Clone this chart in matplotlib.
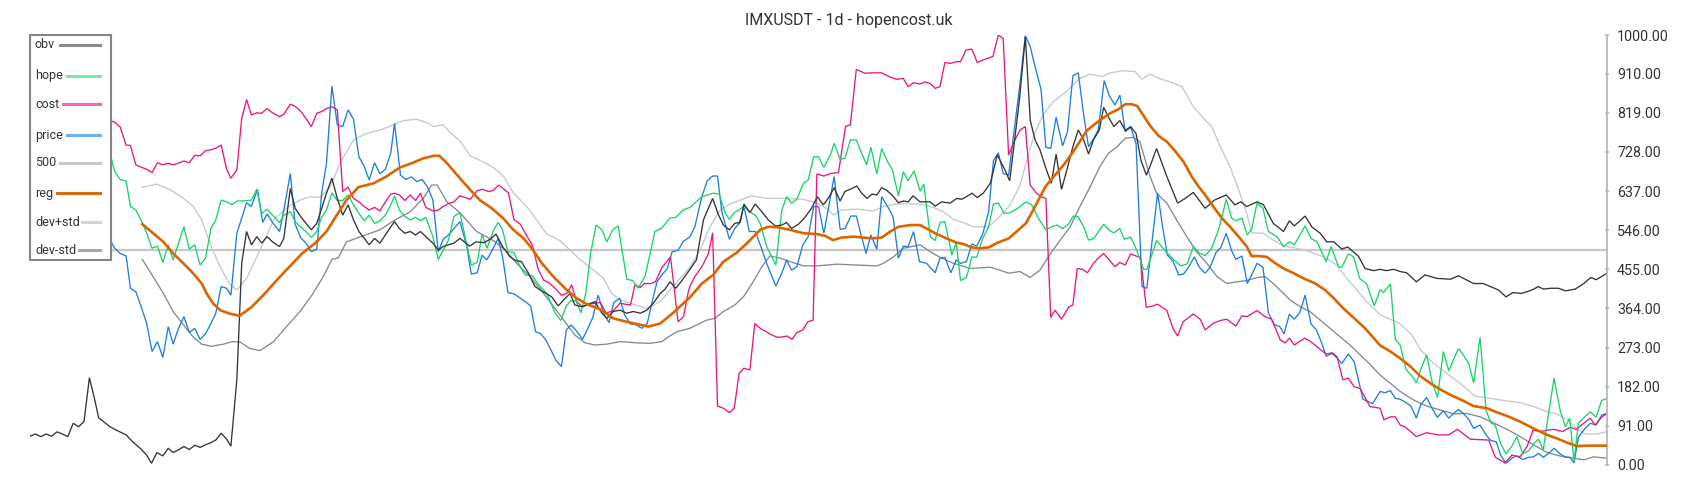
import matplotlib
matplotlib.use('Agg')
import matplotlib.pyplot as plt
import matplotlib.transforms as mtrans
from matplotlib.patches import Rectangle
from matplotlib.lines import Line2D

plt.rcParams['font.family'] = ['Roboto', 'DejaVu Sans']

# ── data: (day, value) ───────────────────────────────────────────────────────
obv = [(0,67),(1,72),(2,66),(3,72),(4,67),(5,77),(6,72),(7,66),(8,97),(9,89),(10,101),(11,203),(12,151),
       (12.7,110),(13.6,101),(14.8,89),(16,81),(17.8,70),(19,54),(20.4,39),(21.6,23),(22.5,4),(23.5,29),
       (24.6,21),(25.6,39),(26.5,29),(27.6,36),(28.5,43),(29.5,36),(30.5,46),(31.5,41),(32.5,47),(33.5,52),
       (34.4,58),(35.4,74),(36.4,60),(37.2,44),(38.3,198),(39.2,469),(40.1,543),(41,512),(42,531),(42.9,516),
       (43.9,531),(44.9,519),(46.2,508),(47,527),(48.2,643),(49.1,597),(50.1,578),(51.1,562),(52.1,547),
       (53.1,562),(54,597),(54.9,632),(55.9,667),(56.9,620),(57.9,581),(58.9,605),(59.9,570),(60.9,543),
       (61.9,527),(62.8,512),(63.8,527),(64.8,516),(65.8,535),(66.8,554),(67.5,566),(68.4,550),(69.4,539),
       (70.4,543),(71.4,535),(72.3,543),(73.3,531),(74.6,516),(75.6,500),(76.5,508),(77.5,512),(78.5,516),
       (79.6,527),(81.4,509),(82.6,519),(84,517),(85.2,525),(86.3,537),(87.5,508),(88.9,484),(90,475),
       (91,473),(92.3,446),(93.5,415),(95,403),(96.6,391),(97.8,370),(98.9,385),(100,399),(100.9,372),
       (102.2,368),(103.4,374),(104.6,380),(105.9,353),(106.8,341),(108,357),(109.3,360),(110.5,353),
       (111.7,357),(113,353),(114.2,360),(115.4,376),(116.7,399),(117.6,409),(118.5,426),(119.6,411),
       (121,434),(122.2,455),(123.4,477),(124.7,570),(125.6,597),(126.4,620),(127.5,581),(128.4,558),
       (129.5,547),(130.5,562),(131.5,564),(132.2,607),(133.3,587),(134.3,607),(135.5,589),(136.7,570),
       (138,556),(139.2,558),(140.1,564),(141,550),(142.3,560),(143.5,576),(144.7,597),(145.8,624),
       (146.9,605),(148,624),(148.9,645),(150,614),(150.9,636),(152.2,643),(153.1,649),(154,632),(155,620),
       (155.9,630),(156.8,628),(157.7,645),(158.6,639),(159.6,628),(160.8,610),(161.7,614),(162.6,612),
       (163.5,626),(164.8,612),(166.7,612),(167.6,602),(168.8,612),(170.4,609),(171.6,620),(172.5,618),
       (173.4,624),(174.4,632),(175.4,622),(176.5,632),(177.8,655),(179.1,721),(180.5,687),(181.4,661),
       (182.1,733),(183.2,849),(184.3,996),(185.2,802),(186.1,756),(187,733),(188,694),(189.1,655),
       (190,723),(191,641),(192,687),(193.1,740),(194.1,779),(195.1,756),(196,723),(196.9,756),(198,779),
       (198.8,832),(199.7,809),(200.7,787),(201.8,801),(202.8,778),(203.8,787),(204.8,771),(205.7,709),
       (206.7,674),(207.4,695),(208.6,736),(210.5,671),(212.5,609),(213.9,620),(215.4,634),(217.6,597),
       (219.3,616),(221.5,628),(223.1,605),(224.2,612),(225.3,601),(227.2,612),(228.4,605),(230.2,562),
       (232.1,543),(233.2,568),(234.1,556),(236.1,579),(237.4,553),(238.9,539),(240.1,519),(241.4,519),
       (242.9,502),(244,507),(246,485),(247.2,457),(248.8,452),(250,455),(251.2,452),(252.5,455),
       (253.7,450),(254.9,447),(256.7,426),(258.3,442),(260.5,434),(263,432),(264.5,440),(267.3,422),
       (269.1,422),(271.9,407),(273.3,391),(274.6,401),(276.2,399),(278.1,407),(279.3,415),(280.2,409),
       (281.5,411),(283,411),(284.3,405),(286.1,409),(287.7,422),(289,436),(290,431),(291.7,444),(292,446)]

hope = [(0,760),(4,745),(8,770),(12,740),(14.8,725),(15.7,682),(16.7,664),(17.8,660),(18.6,601),(19.6,593),
        (20.7,566),(21.6,539),(22.6,504),(23.6,509),(24.6,471),(25.6,512),(26.5,477),(27.5,516),(28.5,554),
        (29.5,502),(30.5,512),(31.5,465),(32.5,481),(33.5,550),(34.4,570),(35.4,616),(36.4,612),(37.4,606),
        (38.4,614),(39.4,614),(41,616),(42,641),(42.9,585),(43.9,595),(44.9,581),(46.2,564),(47,581),
        (48.2,589),(49.1,566),(50.1,554),(51.1,543),(52.1,529),(53.1,543),(54,576),(54.9,593),(55.9,633),
        (56.9,615),(57.9,615),(58.9,628),(59.9,605),(60.9,585),(61.9,568),(62.8,581),(63.8,562),(64.8,568),
        (65.8,581),(66.8,605),(67.5,626),(68.4,593),(69.4,578),(70.4,570),(71.4,576),(72.3,568),(73.3,576),
        (74.6,531),(75.6,478),(76.5,500),(77.5,523),(78.5,578),(79.6,587),(81.7,465),(82.8,471),(83.7,537),
        (84.6,504),(85.9,548),(86.7,564),(87.5,547),(88.5,496),(89.6,494),(90.8,460),(91.7,442),(93,440),
        (94.2,419),(95.7,399),(97.2,354),(98.3,336),(99.3,370),(100.1,382),(101.1,382),(102,354),(102.9,398),
        (103.8,492),(104.8,558),(105.9,547),(106.8,519),(107.9,547),(108.9,556),(110.5,432),(111.6,429),
        (112.6,411),(113.9,440),(114.9,496),(115.7,543),(116.9,550),(118.5,574),(119.6,576),(120.9,593),
        (122.2,599),(124.4,624),(126.5,632),(127.6,630),(128.7,587),(129.5,571),(130.4,587),(131.3,593),
        (132.2,602),(133.2,589),(134.3,581),(135.2,562),(136.4,508),(138.1,465),(139.2,593),(140.1,624),
        (141,609),(142,618),(143.2,655),(144.1,663),(145.1,717),(146,717),(147,692),(148.2,721),(148.9,748),
        (150,711),(150.9,713),(151.9,756),(153,756),(154,725),(154.9,698),(155.7,739),(156.8,677),
        (157.7,736),(158.8,705),(159.7,686),(160.8,626),(161.7,682),(162.6,661),(163.7,684),(164.8,637),
        (165.5,653),(166.7,531),(167.6,522),(168.5,564),(169.4,566),(170.7,488),(171.5,517),(172.3,429),
        (173.4,436),(174.4,484),(175.3,483),(176.4,527),(177.5,554),(178.4,607),(179.3,609),(180.4,585),
        (181.5,587),(182.7,595),(184.4,612),(185.5,605),(186.7,574),(188.1,547),(189.2,554),(190.2,558),
        (191.2,550),(192.3,560),(193.2,579),(194.1,577),(195.1,554),(196,523),(197,527),(198.8,560),
        (199.9,545),(200.7,540),(201.8,550),(202.6,525),(203.8,530),(204.9,500),(206.2,455),(206.8,455),
        (207.4,477),(208.6,522),(210.2,498),(211.8,477),(213.1,463),(214.3,468),(215.4,508),(216.5,493),
        (217.6,487),(218.8,504),(220.1,548),(221.5,618),(222.5,574),(223.3,568),(224.4,574),(225.4,535),
        (226.2,548),(227.2,609),(228.3,597),(229.3,543),(230.9,531),(232.1,508),(233.2,519),(234.1,512),
        (236.1,556),(237.2,527),(238.3,519),(240,473),(240.9,508),(242.3,461),(242.9,460),(244.1,491),
        (245.1,484),(246.2,434),(247.5,421),(248.9,370),(250,408),(250.6,401),(251.9,421),(252.8,292),
        (253.7,279),(254.8,222),(255.9,207),(256.7,191),(257.5,222),(258.6,256),(259.6,194),(260.6,157),
        (261.7,264),(262.7,219),(263.6,246),(264.5,271),(265.4,256),(266.4,236),(267.3,191),(268.5,297),
        (269.6,128),(270.5,98),(271.3,93),(272.3,50),(273.3,26),(274.4,44),(275.3,66),(276.4,26),(277.5,33),
        (278.4,49),(279.3,60),(280.2,36),(281.2,122),(282.2,202),(283.3,128),(284.3,89),(285.1,109),
        (285.9,8),(286.7,97),(287.8,111),(288.9,124),(290,111),(291,150),(292,155)]

cost = [(0,800),(5,790),(10,805),(14.8,801),(15.7,797),(16.7,786),(17.8,744),(18.6,743),(19.6,698),(20.7,692),
        (21.6,688),(22.6,680),(23.6,703),(24.6,698),(25.6,702),(26.5,698),(27.5,702),(28.5,707),(29.5,703),
        (30.5,720),(31.5,719),(32.5,731),(33.5,733),(34.4,737),(35.4,744),(36.4,688),(37.2,667),(38.3,686),
        (39.2,806),(40.1,850),(41,814),(42,819),(42.9,818),(43.9,829),(44.9,819),(46.2,810),(47,816),
        (48.2,839),(49.1,834),(50.1,823),(51.1,806),(52.1,787),(53.1,818),(54,822),(54.9,829),(55.9,833),
        (56.9,826),(57.9,636),(58.9,646),(59.9,620),(60.9,612),(61.9,601),(62.8,593),(63.8,599),(64.8,591),
        (65.8,612),(66.8,630),(67.5,632),(68.4,628),(69.4,615),(70.4,628),(71.4,615),(72.3,632),(73.3,599),
        (74.6,591),(75.6,593),(76.5,601),(77.5,608),(78.5,612),(79.6,626),(81.5,618),(82.8,638),(83.8,641),
        (84.9,636),(85.7,638),(86.8,651),(88,639),(88.6,633),(89.6,571),(90.8,560),(91.7,539),(93,512),
        (94.1,455),(95.1,430),(96.2,423),(97.2,411),(98.4,395),(99.4,399),(100.3,419),(101.2,380),(102.3,368),
        (103.5,374),(104.6,376),(105.6,378),(106.7,353),(108.1,360),(109.2,376),(110.2,374),(111.2,372),
        (112,419),(113,413),(113.8,422),(114.9,422),(115.8,426),(117,459),(118.6,484),(120,333),(121,345),
        (121.9,403),(122.2,416),(123.1,438),(124.4,461),(125.6,491),(126.4,540),(127.3,137),(128.4,132),
        (129.5,122),(130.4,132),(131.3,213),(132.2,225),(133.3,221),(134.2,329),(135.2,318),(136.3,310),
        (137.4,302),(138.4,297),(139.4,298),(140.2,300),(141.1,292),(142,308),(143.1,314),(144,333),(145,337),
        (145.7,677),(147,672),(148.2,678),(149.7,680),(151,787),(151.9,791),(153,920),(154.6,911),(155.9,912),
        (157.7,912),(159.3,902),(160.5,897),(161.7,899),(162.6,880),(163.6,889),(164.8,886),(165.7,891),
        (166.7,887),(167.6,876),(168.5,880),(169.4,936),(170.5,934),(171.5,938),(172.3,938),(173.3,965),
        (174.4,967),(175.4,936),(176.5,942),(178.3,950),(179.3,1000),(180.2,992),(181.2,721),(182.2,752),
        (183.3,779),(184.3,787),(185.2,651),(186.3,633),(187.2,624),(188.1,620),(189,343),(189.8,360),
        (191,339),(192.3,367),(193.1,372),(193.9,457),(194.9,455),(195.8,447),(196.9,469),(197.8,481),
        (198.8,492),(199.9,476),(200.9,461),(201.8,471),(202.8,465),(203.8,491),(204.8,486),(205.6,483),
        (206.7,367),(207.4,368),(208.8,374),(210.5,359),(211.7,316),(212.5,300),(213.5,333),(215.4,351),
        (216.7,339),(217.6,314),(219,329),(220.4,336),(221.6,339),(223.3,323),(224.4,347),(225.3,345),
        (227.2,359),(228.7,345),(229.9,339),(231.5,291),(232.4,284),(233.2,295),(234.1,279),(236,295),
        (236.9,289),(238.3,275),(240,258),(241.1,261),(242,252),(243.1,198),(244.1,202),(245.2,182),
        (246.3,178),(248.1,136),(250,132),(250.7,105),(251.9,112),(252.8,112),(253.7,93),(254.6,89),
        (256.7,66),(258.6,75),(260.8,70),(262.7,70),(264.3,83),(266.7,60),(270.1,58),(271.3,18),(273.1,5),
        (274.4,23),(275.9,19),(277.2,43),(278.3,81),(279.6,78),(282.1,83),(283.8,78),(285.2,88),(286.3,83),
        (287.8,98),(288.9,109),(289.8,93),(291,111),(292,120)]

price = [(0,560),(4,545),(8,570),(12,540),(14.8,523),(15.7,504),(16.7,492),(17.8,486),(18.6,411),(19.6,403),
         (20.7,364),(21.6,329),(22.6,264),(23.6,287),(24.6,250),(25.6,322),(26.5,281),(27.5,318),(28.5,345),
         (29.5,308),(30.5,318),(31.5,292),(32.5,305),(33.5,329),(34.4,353),(35.4,415),(36.4,411),(37.2,395),
         (38.3,539),(39.2,574),(40.1,610),(41,601),(42.1,641),(43.1,564),(43.9,584),(44.9,564),(46.2,543),
         (47,593),(48.2,678),(49.1,560),(50.1,529),(51.1,516),(52.1,496),(53.1,502),(54,632),(54.9,702),
         (55.9,881),(56.9,791),(57.9,787),(58.9,826),(59.9,804),(60.9,717),(61.9,694),(62.8,663),(63.8,703),
         (64.8,677),(65.8,688),(66.8,725),(67.5,795),(68.6,674),(69.6,664),(70.6,670),(71.6,659),(72.6,664),
         (73.6,647),(74.6,616),(75.6,496),(76.5,525),(77.5,535),(78.5,550),(79.6,566),(80.9,508),(81.7,444),
         (82.8,447),(83.7,488),(84.6,477),(85.6,500),(86.7,527),(87.5,484),(88.5,401),(89.6,398),(90.8,388),
         (91.7,380),(92.7,370),(93.6,310),(94.6,305),(95.5,291),(96.6,264),(97.4,243),(98.4,229),(99.3,314),
         (100.2,326),(101.3,310),(102.3,292),(103.3,318),(104.2,343),(105.2,395),(106.2,353),(107.2,331),
         (108.1,378),(109.2,388),(110.1,349),(111.2,328),(112.2,326),(113.3,318),(114.3,329),(115.2,380),
         (116.1,426),(117,442),(118,457),(118.9,496),(120,499),(120.9,519),(122.2,531),(123.1,554),(124.4,624),
         (125.4,661),(126.4,672),(127.3,672),(128.1,589),(129.5,525),(130.5,550),(131.3,562),(132.2,601),
         (133.2,543),(134.3,543),(135.3,509),(136.4,469),(138.1,416),(139.2,446),(140.1,477),(141,453),
         (142,461),(143.1,512),(144.1,531),(145.1,601),(146,601),(147,539),(148,609),(148.9,671),(150,548),
         (150.9,550),(152,579),(153,579),(153.8,539),(154.8,492),(155.7,535),(156.8,502),(157.7,624),
         (158.8,601),(159.8,578),(160.8,481),(161.7,509),(162.6,508),(163.6,543),(164.7,473),(166,469),
         (167.6,447),(168.5,481),(169.4,483),(170.5,447),(171.5,477),(172.3,469),(173.4,473),(174.4,514),
         (175.3,509),(176.4,537),(177.5,589),(178.4,708),(179.3,726),(180.2,678),(181.2,674),(182.2,775),
         (183.2,876),(184.3,998),(185.2,974),(186.1,926),(187.2,874),(188.1,739),(189,736),(190,809),
         (191.2,742),(192.1,775),(193.1,905),(194.1,912),(195.1,814),(196,740),(197,760),(197.8,779),
         (198.9,894),(199.9,857),(200.9,837),(201.8,860),(202.8,775),(203.8,785),(204.8,748),(205.9,415),
         (206.8,411),(207.4,481),(208.8,633),(209.7,555),(210.6,488),(211.6,475),(212.7,442),(213.6,444),
         (214.5,460),(215.6,484),(216.5,460),(217.6,446),(218.5,460),(219.6,494),(220.5,506),(221.5,539),
         (222.5,498),(223.3,478),(224.4,486),(225.4,422),(226.2,442),(227.2,469),(228.3,460),(229.3,354),
         (230.4,326),(231.4,322),(232.2,305),(233.2,351),(234.1,339),(235.1,354),(236.1,395),(237.2,328),
         (238.2,314),(239.2,283),(240,253),(241.1,259),(242.1,248),(242.9,236),(244.1,258),(245.2,240),
         (246.8,153),(248.6,143),(250,171),(250.9,168),(251.9,173),(252.8,155),(253.7,153),(254.8,145),
         (255.7,137),(256.7,109),(257.5,140),(258.6,157),(259.6,132),(260.6,111),(261.7,126),(262.7,109),
         (263.6,120),(264.5,129),(265.4,120),(266.4,106),(267.3,85),(268.5,93),(269.6,70),(270.5,57),
         (271.5,54),(272.3,23),(273.3,4),(274.4,16),(275.3,21),(276.4,13),(277.5,18),(278.4,19),(279.3,27),
         (280.2,18),(281.2,27),(282.2,39),(283.3,26),(284.3,18),(285.1,18),(285.9,5),(286.7,64),(287.8,83),
         (288.9,97),(290,93),(291,116),(292,120)]

reg = [(20.8,560),(22.8,539),(24.7,519),(26.5,492),(28.4,469),(30.2,446),(31.8,422),(32.7,399),(33.9,376),
       (35.2,360),(37,352),(38.8,347),(41,367),(43.2,395),(45.7,430),(48.2,463),(50.3,491),(52.8,516),
       (54.9,543),(56.8,581),(58.6,616),(60.8,646),(63.6,655),(66,671),(68.5,692),(70.7,702),(72.8,713),
       (74.7,719),(75.8,719),(77.2,702),(79.6,667),(81.5,640),(83.3,616),(85.5,597),(87.6,574),(89.5,547),
       (91.4,527),(92.9,504),(94.8,469),(96.9,438),(99.4,407),(101.2,388),(103.1,374),(105.6,362),(108,341),
       (110.5,333),(113,326),(114.5,322),(116.7,329),(119.1,354),(122.2,390),(124.4,422),(126.5,442),
       (128.4,473),(130.9,494),(133,519),(135.2,547),(136.7,554),(138.3,553),(140.7,547),(143.2,539),
       (145.7,537),(147.2,533),(148.7,523),(150.3,529),(152.5,531),(154.3,529),(155.9,527),(157.7,529),
       (159.3,543),(160.8,554),(163,558),(164.8,558),(166,550),(167.9,537),(169.7,527),(171.6,517),
       (172.8,514),(174.4,506),(175.9,504),(177.5,506),(179,516),(181.2,527),(182.7,543),(184.4,562),
       (186.1,601),(188,647),(189.5,670),(191.4,698),(193.2,729),(195.7,778),(198.1,802),(200,818),
       (201.5,827),(202.8,839),(204,839),(205,835),(206.2,812),(207.4,789),(209,765),(210.5,752),(212.1,729),
       (213.6,705),(215.1,671),(216.4,647),(217.6,628),(219.1,601),(220.7,574),(222.2,554),(223.8,531),
       (225.3,508),(226.2,486),(227.5,486),(229,484),(230.6,469),(232.1,457),(234,446),(235.8,434),(238,422),
       (239.8,407),(241.4,388),(243.2,364),(245.4,339),(247.2,318),(248.8,295),(250,278),(251.9,264),
       (253.7,248),(255.6,229),(257.4,207),(259.3,190),(261.1,176),(263,163),(265.1,151),(267.3,137),
       (269.8,132),(271.3,124),(273.5,114),(275.9,101),(278.4,85),(280.9,70),(282.7,62),(284.6,52),
       (286.4,44),(288.3,45),(290.1,45),(292,45)]

dev_hi = [(20.8,646),(23.5,653),(26,640),(28.4,620),(30.2,602),(31.8,570),(33.3,516),(35.2,461),(37,420),
          (38.3,407),(40.1,434),(42.6,500),(45.1,570),(47.8,601),(50,616),(51.9,624),(53.7,622),(55.6,647),
          (57.4,702),(59.9,756),(62.3,771),(64.8,779),(67.3,791),(69.1,801),(71.6,804),(73.5,796),(74.7,787),
          (76.5,791),(77.8,773),(79.6,754),(81.5,719),(83.9,705),(85.8,692),(87.7,671),(89.5,633),(92,601),
          (93.8,570),(95.7,537),(98.1,522),(100,500),(101.9,477),(104,457),(106.2,434),(107.7,399),(109.3,384),
          (111.7,374),(114.2,364),(116.7,380),(119.1,416),(122.2,460),(124.1,500),(125.9,554),(127.8,593),
          (129.6,607),(131.5,616),(133.6,626),(136.4,620),(140.1,620),(143.2,618),(145.7,609),(147.5,597),
          (148.8,581),(150.3,593),(153.1,595),(156.2,591),(158,601),(160.5,607),(164.8,607),(167.3,599),
          (169.1,589),(171,571),(172.8,564),(174.7,554),(177.5,554),(179.3,574),(181.5,605),(183.3,650),
          (184.6,710),(186,770),(187.6,815),(189.5,845),(192,870),(194.4,899),(196.3,909),(198.5,903),
          (200,912),(202.5,917),(204.6,915),(205.9,897),(207.4,909),(209,899),(211.1,891),(213.3,880),
          (215.4,833),(217.3,806),(218.8,787),(220.4,740),(222.2,694),(223.8,640),(225.3,585),(226.2,540),
          (228.4,539),(230.2,523),(232.1,509),(234.6,504),(237,496),(239.5,484),(242,465),(243.8,434),
          (245.7,407),(247.5,380),(250,349),(251.9,339),(253.7,328),(255.9,302),(257.4,269),(259.9,236),
          (262.3,213),(264.8,190),(267.6,160),(270.4,155),(273.5,149),(275.9,145),(278.4,136),(280.9,124),
          (282.7,119),(284.6,106),(286.4,85),(288,72),(290.1,72),(292,78)]

dev_lo = [(20.8,478),(22.8,438),(24.7,399),(26.5,357),(28.4,326),(30.2,298),(31.8,281),(33.6,276),(35.8,281),
          (37.5,287),(38.9,286),(40.7,271),(42.6,266),(45.1,287),(47.5,322),(50,357),(52.2,395),(54.3,438),
          (55.9,478),(57.1,482),(58.6,519),(61.7,533),(64.8,547),(67.6,570),(70.4,589),(72.8,620),(74.4,651),
          (75.4,651),(77.2,612),(79.6,587),(82.7,543),(85.8,522),(88,500),(90.1,469),(92.6,438),(95.1,399),
          (98.1,349),(100.9,302),(102.8,284),(104.6,279),(106.8,281),(109.3,287),(112.4,284),(114.8,283),
          (117,287),(118.2,298),(119.8,310),(122.2,318),(125.3,337),(126.8,341),(128.4,357),(130.5,372),
          (132.1,391),(133.9,426),(135.5,461),(137,486),(138.9,481),(140.7,473),(143.2,463),(145.7,463),
          (149.4,467),(153.1,465),(156.8,463),(158,469),(159.9,484),(161.7,504),(164.8,512),(166.7,496),
          (168.5,483),(171,469),(174.1,457),(177.8,460),(179.6,453),(181.2,446),(183.3,450),(185.2,436),
          (187,453),(188.9,491),(190.7,522),(192.6,554),(194.4,601),(196.3,647),(198.1,694),(199.7,725),
          (201.2,739),(202.8,760),(204.3,762),(205.5,752),(207.4,671),(208.6,632),(210.5,609),(212.3,570),
          (214.2,531),(216,496),(217.9,469),(219.8,438),(221.6,422),(223.5,426),(225.3,429),(227.2,436),
          (228.7,438),(230.2,422),(232.1,399),(233.3,384),(235.2,368),(237,357),(238.9,337),(240.7,318),
          (242.6,298),(244.4,279),(246.3,256),(248.2,233),(250,209),(251.9,190),(253.7,171),(256.2,151),
          (258.6,137),(261.1,128),(263.6,119),(266,120),(268.5,112),(271,98),(273.5,83),(275.9,66),(278.4,47),
          (280.9,29),(283.3,21),(285.8,16),(287.7,12),(289.5,19),(292,16)]

level = 500
y_ticks = [0, 91, 182, 273, 364, 455, 546, 637, 728, 819, 910, 1000]

# ── style ────────────────────────────────────────────────────────────────────
series = [
    ('obv',     obv,    '#353535', 0.95),
    ('hope',    hope,   '#18d468', 0.95),
    ('cost',    cost,   '#e8177f', 0.95),
    ('price',   price,  '#1c7fe2', 0.95),
    ('500',     None,   '#c8c8c8', 1.6),
    ('reg',     reg,    '#dd6500', 1.9),
    ('dev+std', dev_hi, '#c3c9ce', 0.95),
    ('dev-std', dev_lo, '#7f8b95', 0.95),
]
legend_col = {'obv': '#8a8a8a', 'hope': '#7ce8a6', 'cost': '#ee6cae', 'price': '#72b1ee',
              '500': '#c8c8c8', 'reg': '#d86a10', 'dev+std': '#d2d6da', 'dev-std': '#a2aab2'}

W, H = 1700, 500
fig = plt.figure(figsize=(W/100, H/100), dpi=100)
ax = fig.add_axes([30/W, 35/H, (1607-30)/W, 430/H])

for name, pts, col, lw in series[::-1]:
    if pts is None:
        ax.axhline(level, color=col, lw=lw, zorder=1)
        continue
    xs = [p[0] for p in pts]
    ys = [p[1] for p in pts]
    ax.plot(xs, ys, color=col, lw=lw, solid_joinstyle='miter', zorder=3 if name == 'reg' else 2)

ax.set_xlim(0, 292)
ax.set_ylim(0, 1000)
ax.set_xticks([])
for s in ['top', 'left', 'bottom']:
    ax.spines[s].set_visible(False)
ax.spines['right'].set_color('#b3bac1')
ax.spines['right'].set_linewidth(1.3)
ax.yaxis.tick_right()
ax.set_yticks(y_ticks)
ax.set_yticklabels([f'{v:.2f}' for v in y_ticks])
ax.tick_params(axis='y', direction='inout', length=3.5, width=1.2, color='#b3bac1',
               labelsize=10.3, labelcolor='#333333', pad=5.5)

fig.text(849/W, 1 - 20/H, 'IMXUSDT - 1d - hopencost.uk', ha='center', va='center',
         fontsize=11.5, color='#333333')

# ── legend box, drawn in pixel coordinates ───────────────────────────────────
px = mtrans.Affine2D().scale(1/W, -1/H).translate(0, 1) + fig.transFigure
fig.patches.append(Rectangle((30, 35), 81, 225, transform=px, facecolor='white',
                             edgecolor='#858585', lw=1.5, zorder=5))
rows_y = [45, 76, 104, 135, 163, 193, 222, 250]
sample_x0 = [60, 67, 63, 67, 60, 57, 82, 79]
for (name, _, col, lw), yy, x0 in zip(series, rows_y, sample_x0):
    fig.text(35, yy, name, transform=px, ha='left', va='center', fontsize=9,
             color='#333333', zorder=6)
    fig.lines.append(Line2D([x0, 100], [yy, yy], transform=px, color=legend_col[name],
                            lw=2.2, zorder=6))

fig.savefig('out.png', dpi=100)
